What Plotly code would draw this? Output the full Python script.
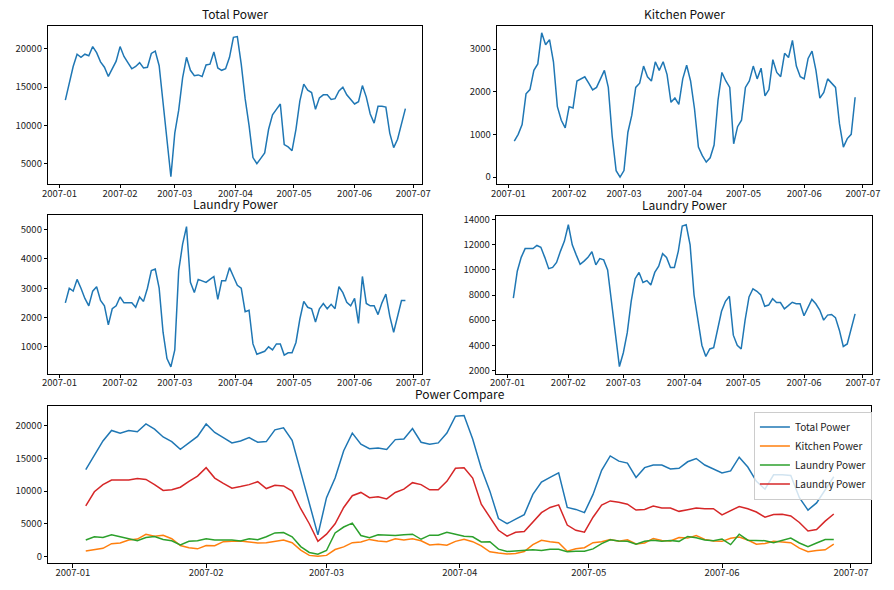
import pandas as pd
import plotly.graph_objects as go

# every second day, 2007-01-04 .. 2007-06-27
dates = pd.date_range("2007-01-04", periods=88, freq="2D")

total_power = [
    13300, 15600, 17700, 19300, 18900, 19300, 19100, 20300, 19500, 18300,
    17600, 16400, 17400, 18400, 20300, 19000, 18200, 17400, 17700, 18200,
    17500, 17600, 19400, 19700, 17800, 13000, 8500, 3300, 9000, 12000,
    16200, 18900, 17200, 16500, 16600, 16400, 17900, 18000, 19600, 17500,
    17200, 17400, 18900, 21500, 21600, 18000, 13500, 10000, 5800, 5000,
    5700, 6400, 9500, 11400, 12100, 12800, 7500, 7200, 6700, 9500,
    13200, 15400, 14600, 14300, 12100, 13600, 14000, 14000, 13400, 13500,
    14500, 15000, 14000, 13400, 12800, 13100, 15200, 13700, 11500, 10300,
    12500, 12500, 12400, 9000, 7100, 8200, 10200, 12200,
]

kitchen_power = [
    840, 1000, 1230, 1950, 2050, 2500, 2650, 3380, 3100, 3220,
    2700, 1650, 1330, 1150, 1650, 1620, 2250, 2300, 2350, 2200,
    2040, 2100, 2300, 2500, 2100, 950, 150, 0, 150, 1050,
    1450, 2100, 2200, 2600, 2350, 2250, 2700, 2500, 2700, 2400,
    1750, 1850, 1700, 2300, 2620, 2250, 1600, 700, 500, 350,
    450, 750, 1800, 2450, 2250, 2100, 780, 1180, 1330, 2100,
    2250, 2600, 2300, 2550, 1900, 2050, 2750, 2450, 2350, 2900,
    2800, 3200, 2600, 2350, 2300, 2780, 2950, 2500, 1850, 1980,
    2300, 2200, 2100, 1250, 700, 900, 1000, 1870,
]

laundry_power = [
    2500, 3000, 2900, 3300, 3000, 2650, 2400, 2900, 3050, 2580,
    2400, 1750, 2300, 2400, 2700, 2500, 2500, 2500, 2350, 2700,
    2550, 3000, 3600, 3650, 3000, 1500, 600, 320, 900, 3600,
    4500, 5100, 3200, 2850, 3300, 3250, 3200, 3300, 3400, 2620,
    3250, 3250, 3700, 3400, 3100, 3000, 2200, 2250, 1100, 750,
    800, 850, 1000, 900, 1100, 1100, 720, 800, 800, 1150,
    1950, 2550, 2350, 2300, 1850, 2300, 2480, 2300, 2450, 2300,
    3050, 2850, 2520, 2400, 2650, 1800, 3400, 2480, 2400, 2400,
    2100, 2500, 2800, 2050, 1500, 2050, 2580, 2580,
]

other_power = [
    7750, 9900, 11000, 11700, 11700, 11700, 11950, 11800, 11000, 10100,
    10200, 10600, 11500, 12300, 13600, 12000, 11200, 10450, 10700, 11000,
    11450, 10400, 10900, 10800, 10000, 7300, 5000, 2300, 3400, 5000,
    7500, 9300, 9800, 9000, 9150, 8800, 9800, 10300, 11300, 11000,
    10200, 10200, 11500, 13500, 13600, 12000, 8000, 6000, 4000, 3100,
    3700, 3800, 5200, 6700, 7500, 7900, 4800, 4000, 3700, 6000,
    7850, 8500, 8300, 8000, 7100, 7200, 7700, 7400, 7400, 6900,
    7150, 7420, 7300, 7300, 6350, 7050, 7650, 7300, 6800, 6000,
    6400, 6450, 6200, 5200, 3900, 4100, 5400, 6500,
]

names = ["Total Power", "Kitchen Power", "Laundry Power", "Laundry Power"]
colors = ["#1f77b4", "#ff7f0e", "#2ca02c", "#d62728"]
series = [total_power, kitchen_power, laundry_power, other_power]

font = "Noto Sans CJK SC, Noto Sans, sans-serif"
pad = pd.Timedelta(hours=209)
xr = [dates[0] - pad, dates[-1] + pad]

fig = go.Figure()

# four small charts, each in blue
for i, vals in enumerate(series):
    fig.add_trace(go.Scatter(
        x=dates, y=vals, mode="lines", showlegend=False,
        line=dict(color="#1f77b4", width=1.5),
        xaxis="x%d" % (i + 1), yaxis="y%d" % (i + 1),
    ))

# compare chart
for name, vals, c in zip(names, series, colors):
    fig.add_trace(go.Scatter(
        x=dates, y=vals, mode="lines", name=name,
        line=dict(color=c, width=1.5),
        xaxis="x5", yaxis="y5",
    ))

xdom = [[0.0481, 0.4732], [0.5582, 0.9843], [0.0481, 0.4732], [0.5571, 0.9843], [0.0481, 0.9832]]
ydom = [[0.6915, 0.9627], [0.6915, 0.9627], [0.3661, 0.6373], [0.3661, 0.6356], [0.0407, 0.3102]]
yranges = [[2370, 23020], [-160, 3545], [90, 5480], [1741, 14262], [-1060, 23030]]
yticks = [
    [5000, 10000, 15000, 20000],
    [0, 1000, 2000, 3000],
    [1000, 2000, 3000, 4000, 5000],
    [2000, 4000, 6000, 8000, 10000, 12000, 14000],
    [0, 5000, 10000, 15000, 20000],
]
titles = ["Total Power", "Kitchen Power", "Laundry Power", "Laundry Power", "Power Compare"]

axis_style = dict(
    showline=True, linecolor="black", linewidth=1, mirror=True,
    ticks="outside", ticklen=3.5, tickcolor="black", showgrid=False,
    zeroline=False, tickfont=dict(size=9.5, color="#222", family=font),
)

layout = dict(
    width=894, height=590, margin=dict(l=0, r=0, t=0, b=0),
    paper_bgcolor="white", plot_bgcolor="white",
    font=dict(family=font, color="#222"),
    legend=dict(
        x=0.984, y=0.301, xanchor="right", yanchor="top",
        bordercolor="#cccccc", borderwidth=1, bgcolor="rgba(255,255,255,0.8)",
        font=dict(size=10, family=font), itemwidth=30, tracegroupgap=0,
    ),
    annotations=[],
)

for i in range(5):
    n = i + 1
    layout["xaxis%d" % n] = dict(
        domain=xdom[i], anchor="y%d" % n, type="date", range=xr,
        tick0="2007-01-01", dtick="M1", tickformat="%Y-%m",
        ticklabelstandoff=-3, **axis_style)
    layout["yaxis%d" % n] = dict(
        domain=ydom[i], anchor="x%d" % n, range=yranges[i],
        tickvals=yticks[i], tickformat="d", **axis_style)
    layout["annotations"].append(dict(
        text=titles[i], xref="paper", yref="paper",
        x=(xdom[i][0] + xdom[i][1]) / 2, y=ydom[i][1] + 0.003,
        xanchor="center", yanchor="bottom", showarrow=False,
        font=dict(size=12, family=font, color="#111"),
    ))

fig.update_layout(layout)
# page body margin would shift the figure by 8px
fig.write_html("out.html", config={"displayModeBar": False},
               post_script="document.body.style.margin='0';")
